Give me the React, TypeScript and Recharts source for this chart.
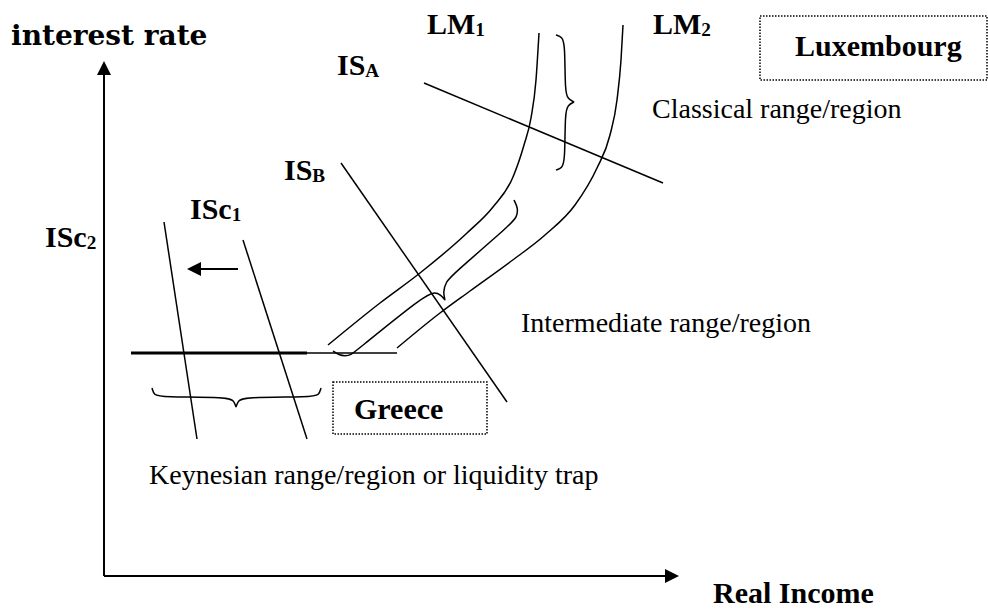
import { ComposedChart, Line, Scatter, XAxis, YAxis, ReferenceArea } from 'recharts'

// diagram coordinates: x grows right, y grows down (y axis is reversed)
const W = 988
const H = 611

const lm1 = [
  { x: 328, y: 345 }, { x: 380, y: 303 }, { x: 420, y: 273 }, { x: 467, y: 233 },
  { x: 493, y: 207 }, { x: 513, y: 177 }, { x: 524, y: 145 }, { x: 531, y: 118 },
  { x: 536, y: 80 }, { x: 539, y: 33 },
]
const lm2 = [
  { x: 397, y: 348 }, { x: 440, y: 313 }, { x: 470, y: 291 }, { x: 510, y: 262 },
  { x: 545, y: 235 }, { x: 575, y: 205 }, { x: 597, y: 168 }, { x: 610, y: 135 },
  { x: 617, y: 100 }, { x: 621, y: 60 }, { x: 623, y: 25 },
]
const isA = [{ x: 424, y: 83 }, { x: 663, y: 183 }]
const isB = [{ x: 341, y: 163 }, { x: 507, y: 402 }]
const isC1 = [{ x: 243, y: 240 }, { x: 307, y: 439 }]
const isC2 = [{ x: 164, y: 222 }, { x: 197, y: 439 }]
const trapThick = [{ x: 131, y: 353 }, { x: 307, y: 353 }]
const trapThin = [{ x: 307, y: 353 }, { x: 397, y: 353 }]
const axisY = [{ x: 104, y: 576 }, { x: 104, y: 72 }]
const axisX = [{ x: 104, y: 576 }, { x: 668, y: 576 }]
const shift = [{ x: 238, y: 269 }, { x: 198, y: 269 }]

const braceClassical = [
  { x: 556, y: 35 }, { x: 562, y: 37 }, { x: 565, y: 44 }, { x: 565, y: 92 },
  { x: 568, y: 99 }, { x: 574, y: 102 }, { x: 574, y: 102 }, { x: 568, y: 105 },
  { x: 565, y: 112 }, { x: 565, y: 161 }, { x: 562, y: 168 }, { x: 556, y: 170 },
]
const braceIntermediate = [
  { x: 333, y: 351 }, { x: 339, y: 355 }, { x: 345, y: 356 }, { x: 351, y: 355 },
  { x: 357, y: 350 }, { x: 425, y: 295 }, { x: 435, y: 292 }, { x: 441, y: 295 },
  { x: 445, y: 300 }, { x: 445, y: 300 }, { x: 443, y: 292 }, { x: 446, y: 282 },
  { x: 452, y: 275 }, { x: 510, y: 225 }, { x: 517, y: 217 }, { x: 518, y: 208 },
  { x: 514, y: 200 },
]
const braceKeynesian = [
  { x: 152, y: 388 }, { x: 154, y: 395 }, { x: 161, y: 397 }, { x: 229, y: 397 },
  { x: 234, y: 401 }, { x: 236, y: 407 }, { x: 236, y: 407 }, { x: 238, y: 401 },
  { x: 243, y: 397 }, { x: 312, y: 397 }, { x: 319, y: 395 }, { x: 321, y: 388 },
]

const arrowTips = [
  { x: 104, y: 61, dir: 'up' },
  { x: 679, y: 576, dir: 'right' },
  { x: 187, y: 269, dir: 'left' },
]

const curveLabels = [
  { x: 427, y: 34, main: 'LM', sub: '1' },
  { x: 653, y: 34, main: 'LM', sub: '2' },
  { x: 337, y: 75, main: 'IS', sub: 'A' },
  { x: 284, y: 180, main: 'IS', sub: 'B' },
  { x: 190, y: 219, main: 'ISc', sub: '1' },
  { x: 45, y: 247, main: 'ISc', sub: '2' },
]
const boldLabels = [
  { x: 795, y: 56, main: 'Luxembourg' },
  { x: 354, y: 419, main: 'Greece' },
  { x: 713, y: 603, main: 'Real Income' },
]
const plainLabels = [
  { x: 652, y: 118, main: 'Classical range/region' },
  { x: 521, y: 332, main: 'Intermediate range/region' },
  { x: 149, y: 484, main: 'Keynesian range/region or liquidity trap' },
]
const axisTitle = [{ x: 11, y: 45, main: 'interest rate' }]

const countryBoxes = [
  { x1: 760, x2: 987, y1: 16, y2: 80 },
  { x1: 333, x2: 487, y1: 382, y2: 434 },
]

const SERIF = '"Liberation Serif", "Times New Roman", serif'

function makeText(family: string, size: number, weight: string) {
  return (props: any) => {
    const { cx, cy, payload } = props
    return (
      <text x={cx} y={cy} fontFamily={family} fontSize={size} fontWeight={weight} fill="#000">
        {payload.main}
        {payload.sub ? (
          <tspan fontSize={size * 0.64} dy={2}>
            {payload.sub}
          </tspan>
        ) : null}
      </text>
    )
  }
}

const ROTATE: Record<string, number> = { up: -90, right: 0, left: 180 }

function ArrowHead(props: any) {
  const { cx, cy, payload } = props
  return (
    <polygon
      points="0,0 -14,-7 -14,7"
      transform={`translate(${cx},${cy}) rotate(${ROTATE[payload.dir]})`}
      fill="#000"
    />
  )
}

const segments = [
  { key: 'lm1', data: lm1, width: 1.5, type: 'monotone' },
  { key: 'lm2', data: lm2, width: 1.5, type: 'monotone' },
  { key: 'isA', data: isA, width: 1.5, type: 'linear' },
  { key: 'isB', data: isB, width: 1.5, type: 'linear' },
  { key: 'isC1', data: isC1, width: 1.5, type: 'linear' },
  { key: 'isC2', data: isC2, width: 1.5, type: 'linear' },
  { key: 'trapThick', data: trapThick, width: 3, type: 'linear' },
  { key: 'trapThin', data: trapThin, width: 1.5, type: 'linear' },
  { key: 'axisY', data: axisY, width: 2, type: 'linear' },
  { key: 'axisX', data: axisX, width: 2, type: 'linear' },
  { key: 'shift', data: shift, width: 2, type: 'linear' },
  { key: 'braceClassical', data: braceClassical, width: 1.5, type: 'basis' },
  { key: 'braceIntermediate', data: braceIntermediate, width: 1.5, type: 'basis' },
  { key: 'braceKeynesian', data: braceKeynesian, width: 1.5, type: 'basis' },
]

export default function App() {
  return (
    <div style={{ position: 'absolute', left: 0, top: 0, background: '#fff' }}>
      <ComposedChart width={W} height={H} margin={{ top: 0, right: 0, bottom: 0, left: 0 }}>
        <XAxis dataKey="x" type="number" domain={[0, W]} hide allowDataOverflow />
        <YAxis dataKey="y" type="number" domain={[0, H]} reversed hide allowDataOverflow />
        {countryBoxes.map((b, i) => (
          <ReferenceArea
            key={i}
            x1={b.x1}
            x2={b.x2}
            y1={b.y1}
            y2={b.y2}
            fill="none"
            fillOpacity={0}
            stroke="#000"
            strokeWidth={1.5}
            strokeDasharray="1.5 1.5"
            ifOverflow="visible"
          />
        ))}
        {segments.map((s) => (
          <Line
            key={s.key}
            data={s.data}
            dataKey="y"
            type={s.type as any}
            stroke="#000"
            strokeWidth={s.width}
            dot={false}
            activeDot={false}
            isAnimationActive={false}
          />
        ))}
        <Scatter data={arrowTips} shape={ArrowHead} isAnimationActive={false} />
        <Scatter data={curveLabels} shape={makeText(SERIF, 30, 'bold')} isAnimationActive={false} />
        <Scatter data={boldLabels} shape={makeText(SERIF, 30, 'bold')} isAnimationActive={false} />
        <Scatter data={plainLabels} shape={makeText(SERIF, 28, 'normal')} isAnimationActive={false} />
        <Scatter data={axisTitle} shape={makeText('"DejaVu Serif", serif', 28, 'bold')} isAnimationActive={false} />
      </ComposedChart>
    </div>
  )
}
